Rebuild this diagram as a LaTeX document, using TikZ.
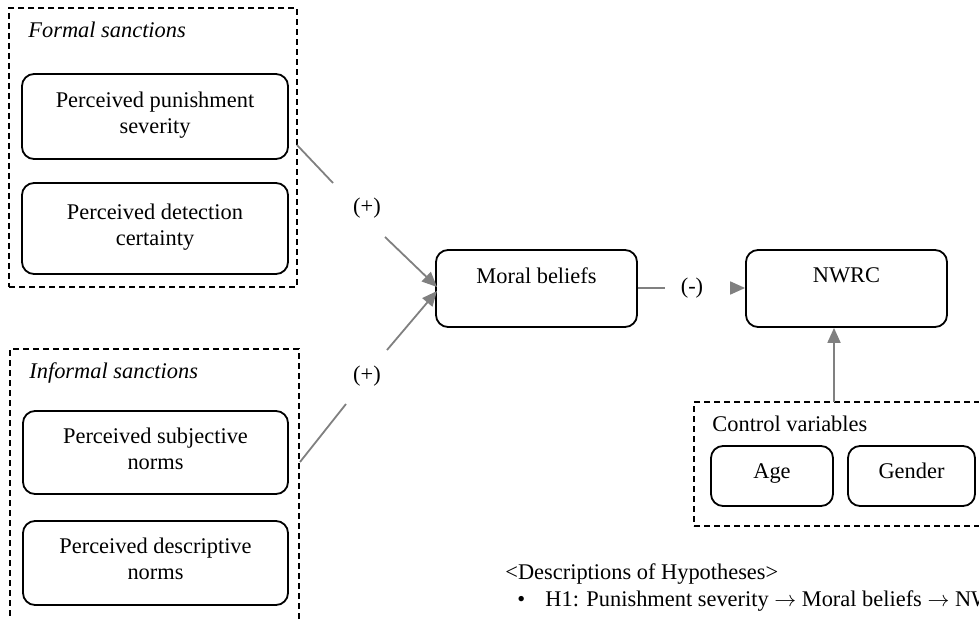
\documentclass[tikz,border=0pt]{standalone}
\usepackage{fontspec}
\setmainfont{Liberation Serif}
\usetikzlibrary{arrows.meta}
\begin{document}
\begin{tikzpicture}[x=0.5pt,y=-0.5pt,
  every node/.style={font=\fontsize{11.2}{13}\selectfont},
  box/.style={draw=black, line width=0.9pt, rounded corners=6pt, align=center, inner sep=0pt},
  group/.style={draw=black, line width=0.8pt, dash pattern=on 3pt off 2pt, inner sep=0pt},
  conn/.style={draw=gray, line width=0.9pt},
  arr/.style={conn, -{Triangle[length=7.5pt,width=6.5pt]}},
  lab/.style={inner sep=1pt}]
\useasboundingbox (0,0) rectangle (979,620);
\clip (0,0) rectangle (979,620);
% groups
\node[group, minimum width=144pt, minimum height=139.5pt] (formal) at (153,147.5) {};
\node[group, minimum width=144.5pt, minimum height=145.5pt] (informal) at (154.5,494.5) {};
\node[group, minimum width=148pt, minimum height=62pt] (control) at (842,464) {};
\node[anchor=west, inner sep=0pt] (tformal) at (28,30) {\itshape Formal sanctions};
\node[anchor=west, inner sep=0pt] (tinformal) at (29,373) {\itshape Informal sanctions};
\node[anchor=west, inner sep=0pt] (tcontrol) at (712,424) {Control variables};
% boxes
\node[box, minimum width=133pt, minimum height=42.5pt] (b1) at (155,116.5) {Perceived punishment\\severity\\[-9pt]\mbox{}};
\node[box, minimum width=133pt, minimum height=45.5pt] (b2) at (155,228.5) {Perceived detection\\certainty\\[-9pt]\mbox{}};
\node[box, minimum width=132.5pt, minimum height=41.5pt] (b3) at (155.5,452.5) {Perceived subjective\\norms\\[-9pt]\mbox{}};
\node[box, minimum width=132.5pt, minimum height=42pt] (b4) at (155.5,563) {Perceived descriptive\\norms\\[-9pt]\mbox{}};
\node[box, minimum width=100.5pt, minimum height=38.5pt] (moral) at (536.5,288.5) {Moral beliefs\\[0pt]\mbox{}};
\node[box, minimum width=100.5pt, minimum height=38.5pt] (nwrc) at (846.5,288.5) {NWRC\\[0pt]\mbox{}};
\node[box, minimum width=61pt, minimum height=30pt] (age) at (772,476) {Age\\[-8pt]\mbox{}};
\node[box, minimum width=63.5pt, minimum height=30pt] (gender) at (911.5,476) {Gender\\[-8pt]\mbox{}};
% connectors
\coordinate (a1) at (297,145);
\coordinate (a2) at (333,183);
\node[lab] (p1) at (367,208) {(+)};
\coordinate (a3) at (385,237);
\coordinate (m1) at (437,287);
\draw[conn] (a1) -- (a2);
\draw[arr] (a3) -- (m1);
\coordinate (c1) at (300,462);
\coordinate (c2) at (346,404);
\node[lab] (p2) at (367,376) {(+)};
\coordinate (c3) at (387,350);
\coordinate (m2) at (437,291);
\draw[conn] (c1) -- (c2);
\draw[arr] (c3) -- (m2);
\coordinate (d1) at (665,288);
\node[lab] (p3) at (692,288) {(-)};
\coordinate (d2) at (731,288);
\draw[conn] (moral.east |- d1) -- (d1);
\draw[arr] (d2) -- (nwrc.west |- d2);
\coordinate (e1) at (834,402);
\draw[arr] (e1) -- (nwrc.south -| e1);
% hypotheses
\node[anchor=west, inner sep=0pt] (hyp) at (505,574) {<Descriptions of Hypotheses>};
\node[anchor=west, inner sep=0pt] (bul) at (517,601) {\textbullet};
\node[anchor=west, inner sep=0pt] (h1) at (545,601) {H1: Punishment severity $\rightarrow$ Moral beliefs $\rightarrow$ NWRC};
\end{tikzpicture}
\end{document}
